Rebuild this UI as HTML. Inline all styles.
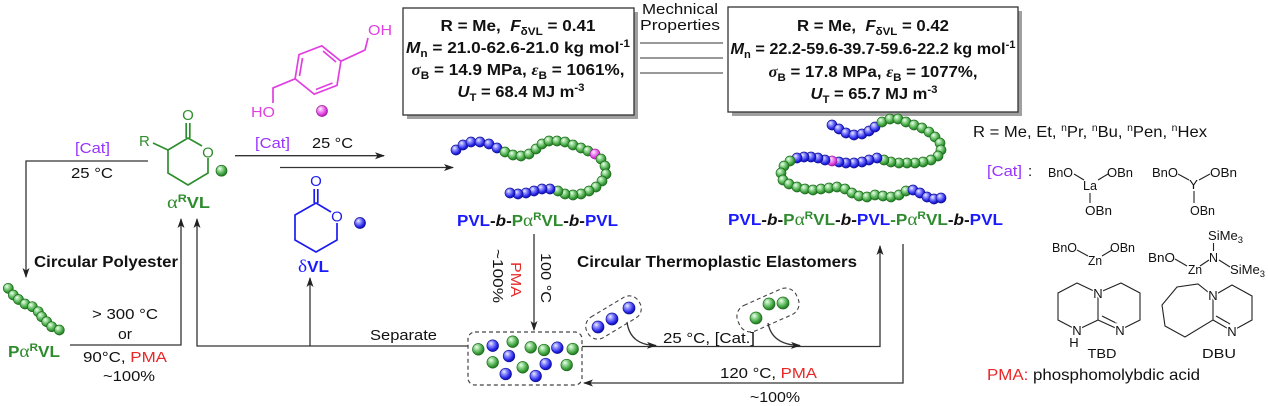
<!DOCTYPE html>
<html><head><meta charset="utf-8">
<style>
html,body{margin:0;padding:0;background:#fff;}
svg{display:block;}
text{font-family:"Liberation Sans",Arial,sans-serif;fill:#111;}
.g{fill:url(#gg);stroke:#1d6b1d;stroke-width:.7}
.b{fill:url(#bb);stroke:#10109a;stroke-width:.7}
.p{fill:url(#pp);stroke:#a020a0;stroke-width:.7}
.ln{stroke:#333;stroke-width:1.3;fill:none}
.gs{stroke:#2f8f2f;stroke-width:1.7;fill:none}
.bs{stroke:#1c1cf0;stroke-width:1.7;fill:none}
.ps{stroke:#e040e0;stroke-width:1.7;fill:none}
.ks{stroke:#222;stroke-width:1.1;fill:none}
.lab{paint-order:stroke;stroke:#fff;stroke-width:3px;}
</style></head><body>
<svg width="1268" height="406" viewBox="0 0 1268 406" xmlns="http://www.w3.org/2000/svg">
<defs>
<radialGradient id="gg" cx="0.4" cy="0.38" r="0.65" fx="0.35" fy="0.3">
<stop offset="0" stop-color="#f2fff2"/><stop offset="0.35" stop-color="#92d892"/><stop offset="0.75" stop-color="#3a9d3a"/><stop offset="1" stop-color="#1f6f1f"/></radialGradient>
<radialGradient id="bb" cx="0.4" cy="0.38" r="0.65" fx="0.35" fy="0.3">
<stop offset="0" stop-color="#f0f0ff"/><stop offset="0.35" stop-color="#8a8aff"/><stop offset="0.75" stop-color="#2828e8"/><stop offset="1" stop-color="#0a0a9a"/></radialGradient>
<radialGradient id="pp" cx="0.4" cy="0.38" r="0.65" fx="0.35" fy="0.3">
<stop offset="0" stop-color="#fff0ff"/><stop offset="0.35" stop-color="#f39af3"/><stop offset="0.75" stop-color="#dc3cdc"/><stop offset="1" stop-color="#a010a0"/></radialGradient>
<marker id="ah" markerWidth="10" markerHeight="8" refX="9" refY="4" orient="auto" markerUnits="userSpaceOnUse">
<path d="M0,0.5 L10,4 L0,7.5 L2.5,4 z" fill="#222"/></marker>
</defs>

<!-- ===== Property boxes ===== -->
<rect x="407" y="12" width="231" height="107" fill="#a0a0a0"/>
<rect x="403" y="8" width="231" height="107" fill="#fff" stroke="#333" stroke-width="1.3"/>
<g font-weight="bold" font-size="16" text-anchor="middle">
<text x="518" y="31" textLength="155" lengthAdjust="spacingAndGlyphs">R = Me,&#160; <tspan font-style="italic">F</tspan><tspan font-size="11" dy="4">δVL</tspan><tspan dy="-4"> = 0.41</tspan></text>
<text x="518" y="53" textLength="224" lengthAdjust="spacingAndGlyphs"><tspan font-style="italic">M</tspan><tspan font-size="11" dy="4">n</tspan><tspan dy="-4"> = 21.0-62.6-21.0 kg mol</tspan><tspan font-size="11" dy="-6">-1</tspan></text>
<text x="518" y="75" textLength="213" lengthAdjust="spacingAndGlyphs"><tspan font-style="italic" font-family="Liberation Serif">σ</tspan><tspan font-size="11" dy="4">B</tspan><tspan dy="-4"> = 14.9 MPa, </tspan><tspan font-style="italic" font-family="Liberation Serif">ε</tspan><tspan font-size="11" dy="4">B</tspan><tspan dy="-4"> = 1061%,</tspan></text>
<text x="521" y="97" textLength="127" lengthAdjust="spacingAndGlyphs"><tspan font-style="italic">U</tspan><tspan font-size="11" dy="4">T</tspan><tspan dy="-4"> = 68.4 MJ m</tspan><tspan font-size="11" dy="-6">-3</tspan></text>
</g>

<rect x="732" y="11" width="290" height="105" fill="#a0a0a0"/>
<rect x="728" y="7" width="290" height="105" fill="#fff" stroke="#333" stroke-width="1.3"/>
<g font-weight="bold" font-size="16" text-anchor="middle">
<text x="873" y="31" textLength="152" lengthAdjust="spacingAndGlyphs">R = Me,&#160; <tspan font-style="italic">F</tspan><tspan font-size="11" dy="4">δVL</tspan><tspan dy="-4"> = 0.42</tspan></text>
<text x="873" y="54" textLength="285" lengthAdjust="spacingAndGlyphs"><tspan font-style="italic">M</tspan><tspan font-size="11" dy="4">n</tspan><tspan dy="-4"> = 22.2-59.6-39.7-59.6-22.2 kg mol</tspan><tspan font-size="11" dy="-6">-1</tspan></text>
<text x="873" y="77" textLength="209" lengthAdjust="spacingAndGlyphs"><tspan font-style="italic" font-family="Liberation Serif">σ</tspan><tspan font-size="11" dy="4">B</tspan><tspan dy="-4"> = 17.8 MPa, </tspan><tspan font-style="italic" font-family="Liberation Serif">ε</tspan><tspan font-size="11" dy="4">B</tspan><tspan dy="-4"> = 1077%,</tspan></text>
<text x="874" y="99" textLength="127" lengthAdjust="spacingAndGlyphs"><tspan font-style="italic">U</tspan><tspan font-size="11" dy="4">T</tspan><tspan dy="-4"> = 65.7 MJ m</tspan><tspan font-size="11" dy="-6">-3</tspan></text>
</g>

<text x="642" y="14" font-size="15" textLength="76" lengthAdjust="spacingAndGlyphs">Mechnical</text>
<text x="640" y="30" font-size="15" textLength="80" lengthAdjust="spacingAndGlyphs">Properties</text>
<line x1="640" y1="43" x2="723" y2="43" stroke="#333" stroke-width="1"/>
<line x1="640" y1="58" x2="723" y2="58" stroke="#333" stroke-width="1"/>
<line x1="640" y1="73" x2="723" y2="73" stroke="#333" stroke-width="1"/>

<!-- ===== Pink diol ===== -->
<polygon class="ps" points="321.8,45.8 340.9,61.2 337,85.4 314.2,94.2 295.1,78.8 299,54.6"/>
<line class="ps" x1="302.5" y1="58" x2="299.5" y2="76"/>
<line class="ps" x1="323" y1="51" x2="336" y2="62"/>
<line class="ps" x1="332.5" y1="83" x2="316" y2="89.5"/>
<polyline class="ps" points="340.9,61.2 365,50 368,38"/>
<polyline class="ps" points="295.1,78.8 273,88 273,103"/>
<text x="368" y="35" font-size="15" fill="#e040e0" style="fill:#e040e0" textLength="24" lengthAdjust="spacingAndGlyphs">OH</text>
<text x="251" y="117" font-size="15" style="fill:#e040e0" textLength="24" lengthAdjust="spacingAndGlyphs">HO</text>
<circle class="p" cx="322" cy="111" r="5.5"/>

<!-- ===== αRVL structure ===== -->
<polyline class="gs" points="202,146 188,138 168,150 168,173 188,185 208,173 208,158"/>
<line class="gs" x1="168" y1="150" x2="153" y2="143"/>
<line class="gs" x1="186.2" y1="138" x2="186.2" y2="123"/>
<line class="gs" x1="189.8" y1="138" x2="189.8" y2="123"/>
<text x="188" y="120" font-size="15" text-anchor="middle" style="fill:#2f8f2f">O</text>
<text x="208" y="157.5" font-size="15" text-anchor="middle" style="fill:#2f8f2f">O</text>
<text x="139" y="146" font-size="15" style="fill:#2f8f2f">R</text>
<circle class="g" cx="221.5" cy="170.7" r="5.5"/>
<text x="167" y="208" font-size="16" font-weight="bold" style="fill:#2e8b2e" textLength="43" lengthAdjust="spacingAndGlyphs"><tspan font-family="Liberation Serif" font-weight="normal" font-size="18" style="fill:#2e8b2e">α</tspan><tspan font-size="11" dy="-6" style="fill:#2e8b2e">R</tspan><tspan dy="6" style="fill:#2e8b2e">VL</tspan></text>

<!-- ===== δVL structure ===== -->
<polyline class="bs" points="331,212 316,203 295,215 295,240 316,252 337,240 337,223"/>
<line class="bs" x1="314.2" y1="203" x2="314.2" y2="189"/>
<line class="bs" x1="317.8" y1="203" x2="317.8" y2="189"/>
<text x="316" y="186" font-size="15" text-anchor="middle" style="fill:#1c1cf0">O</text>
<text x="337" y="221.5" font-size="15" text-anchor="middle" style="fill:#1c1cf0">O</text>
<circle class="b" cx="360" cy="223" r="5.5"/>
<text x="298" y="272" font-size="16" font-weight="bold" style="fill:#1a1aff" textLength="31" lengthAdjust="spacingAndGlyphs"><tspan font-family="Liberation Serif" font-weight="normal" font-size="18" style="fill:#1a1aff">δ</tspan><tspan style="fill:#1a1aff">VL</tspan></text>

<!-- ===== Left arrows ===== -->
<text x="75" y="153" font-size="15" style="fill:#9933ff" textLength="35" lengthAdjust="spacingAndGlyphs">[Cat]</text>
<text x="71" y="178" font-size="15" textLength="42" lengthAdjust="spacingAndGlyphs">25 °C</text>
<polyline class="ln" points="148,161 26,161 26,277" marker-end="url(#ah)"/>
<text x="34" y="267" font-size="15.5" font-weight="bold" textLength="144" lengthAdjust="spacingAndGlyphs">Circular Polyester</text>
<polyline class="ln" points="70,345 181,345 181,219" marker-end="url(#ah)"/>
<polyline class="ln" points="468,346 197,346 197,219" marker-end="url(#ah)"/>
<line class="ln" x1="310" y1="346" x2="310" y2="278" marker-end="url(#ah)"/>
<text x="92" y="319" font-size="15" textLength="66" lengthAdjust="spacingAndGlyphs">&gt; 300 °C</text>
<text x="118" y="339" font-size="15" textLength="14" lengthAdjust="spacingAndGlyphs">or</text>
<text x="83" y="362" font-size="15" textLength="84" lengthAdjust="spacingAndGlyphs">90°C, <tspan style="fill:#e82828">PMA</tspan></text>
<text x="103" y="381" font-size="15" textLength="52" lengthAdjust="spacingAndGlyphs">~100%</text>
<text x="370" y="340" font-size="15" textLength="67" lengthAdjust="spacingAndGlyphs">Separate</text>

<!-- PαRVL chain -->
<g>
<circle class="g" cx="8.3" cy="288.3" r="5"/><circle class="g" cx="13.3" cy="295" r="5"/><circle class="g" cx="18.5" cy="299.5" r="5"/><circle class="g" cx="25" cy="304" r="5"/><circle class="g" cx="32.3" cy="306.7" r="5"/><circle class="g" cx="38.3" cy="311.7" r="5"/><circle class="g" cx="41.7" cy="316.7" r="5"/><circle class="g" cx="46.7" cy="321.7" r="5"/><circle class="g" cx="51.7" cy="326.7" r="5"/><circle class="g" cx="59.3" cy="330" r="5"/>
</g>
<text x="8" y="357" font-size="16" font-weight="bold" style="fill:#2e8b2e" textLength="52" lengthAdjust="spacingAndGlyphs">P<tspan font-family="Liberation Serif" font-weight="normal" font-size="18" style="fill:#2e8b2e">α</tspan><tspan font-size="11" dy="-6" style="fill:#2e8b2e">R</tspan><tspan dy="6" style="fill:#2e8b2e">VL</tspan></text>

<!-- ===== Middle arrows ===== -->
<text x="255" y="148" font-size="15" style="fill:#9933ff" textLength="35" lengthAdjust="spacingAndGlyphs">[Cat]</text>
<text x="312" y="148" font-size="15" textLength="41" lengthAdjust="spacingAndGlyphs">25 °C</text>
<line class="ln" x1="235" y1="155.7" x2="384" y2="155.7" marker-end="url(#ah)"/>
<line class="ln" x1="280" y1="167.5" x2="453" y2="167.5" marker-end="url(#ah)"/>

<!-- Chain 1 -->
<g>
<circle class="b" cx="456" cy="150" r="5"/><circle class="b" cx="463" cy="145" r="5"/><circle class="b" cx="471" cy="142" r="5"/><circle class="b" cx="480" cy="142" r="5"/><circle class="b" cx="489" cy="144" r="5"/><circle class="b" cx="497" cy="148" r="5"/>
<circle class="g" cx="505" cy="152" r="5"/><circle class="g" cx="513" cy="155" r="5"/><circle class="g" cx="521" cy="156" r="5"/><circle class="g" cx="529" cy="154" r="5"/><circle class="g" cx="536" cy="149" r="5"/><circle class="g" cx="542" cy="144" r="5"/><circle class="g" cx="549" cy="141" r="5"/><circle class="g" cx="557" cy="141" r="5"/><circle class="g" cx="565" cy="142" r="5"/><circle class="g" cx="573" cy="145" r="5"/><circle class="g" cx="581" cy="148" r="5"/><circle class="g" cx="588" cy="151" r="5"/>
<circle class="p" cx="595" cy="154" r="5"/>
<circle class="g" cx="601" cy="159" r="5"/><circle class="g" cx="605" cy="166" r="5"/><circle class="g" cx="606" cy="174" r="5"/><circle class="g" cx="602" cy="181" r="5"/><circle class="g" cx="596" cy="187" r="5"/><circle class="g" cx="589" cy="191" r="5"/><circle class="g" cx="581" cy="194" r="5"/><circle class="g" cx="573" cy="195" r="5"/><circle class="g" cx="565" cy="194" r="5"/><circle class="g" cx="558" cy="191" r="5"/>
<circle class="b" cx="550" cy="189" r="5"/><circle class="b" cx="542" cy="189" r="5"/><circle class="b" cx="534" cy="191" r="5"/><circle class="b" cx="526" cy="193" r="5"/><circle class="b" cx="518" cy="194" r="5"/><circle class="b" cx="510" cy="193" r="5"/>
</g>
<text x="457" y="226" font-size="16" font-weight="bold" textLength="161" lengthAdjust="spacingAndGlyphs"><tspan style="fill:#1a1aff">PVL</tspan>-<tspan font-style="italic">b</tspan>-<tspan style="fill:#2e8b2e">P</tspan><tspan font-family="Liberation Serif" font-weight="normal" font-size="18" style="fill:#2e8b2e">α</tspan><tspan font-size="11" dy="-6" style="fill:#2e8b2e">R</tspan><tspan dy="6" style="fill:#2e8b2e">VL</tspan>-<tspan font-style="italic">b</tspan>-<tspan style="fill:#1a1aff">PVL</tspan></text>

<!-- Vertical degradation arrow -->
<line class="ln" x1="534" y1="234" x2="534" y2="330" marker-end="url(#ah)"/>
<text transform="translate(541,253) rotate(90)" font-size="15" textLength="50" lengthAdjust="spacingAndGlyphs">100 °C</text>
<text transform="translate(511,262) rotate(90)" font-size="15" style="fill:#e82828" textLength="35" lengthAdjust="spacingAndGlyphs">PMA</text>
<text transform="translate(493,249) rotate(90)" font-size="15" textLength="54" lengthAdjust="spacingAndGlyphs">~100%</text>

<text x="577" y="267" font-size="16" font-weight="bold" textLength="280" lengthAdjust="spacingAndGlyphs">Circular Thermoplastic Elastomers</text>

<!-- Mixed monomer box -->
<rect x="468" y="332" width="114" height="53" rx="7" fill="none" stroke="#444" stroke-width="1.2" stroke-dasharray="4,3"/>
<g>
<circle class="g" cx="478.3" cy="349.3" r="5.8"/><circle class="b" cx="492.7" cy="345.7" r="5.8"/><circle class="g" cx="512.7" cy="341.7" r="5.8"/><circle class="b" cx="509" cy="356" r="5.8"/><circle class="g" cx="492.7" cy="362.3" r="5.8"/><circle class="b" cx="505.7" cy="374" r="5.8"/><circle class="g" cx="522.7" cy="367.3" r="5.8"/><circle class="g" cx="530.7" cy="347.3" r="5.8"/><circle class="g" cx="544" cy="350" r="5.8"/><circle class="b" cx="557.3" cy="347.7" r="5.8"/><circle class="g" cx="572.7" cy="349" r="5.8"/><circle class="b" cx="545.7" cy="364" r="5.8"/><circle class="b" cx="535.7" cy="376" r="5.8"/><circle class="g" cx="566.7" cy="365" r="5.8"/>
</g>

<!-- Loop arrows -->
<polyline class="ln" points="582,346.5 880,346.5 880,246" marker-end="url(#ah)"/>
<polyline class="ln" points="903,244 903,383 584,383" marker-end="url(#ah)"/>
<text x="663" y="343" font-size="15" textLength="92" lengthAdjust="spacingAndGlyphs">25 °C, [Cat.]</text>
<text x="720" y="378" font-size="15" textLength="97" lengthAdjust="spacingAndGlyphs">120 °C, <tspan style="fill:#e82828">PMA</tspan></text>
<text x="750" y="402" font-size="15" textLength="50" lengthAdjust="spacingAndGlyphs">~100%</text>

<!-- Capsules -->
<rect x="-30" y="-12" width="60" height="24" rx="11" transform="translate(613.5,317.5) rotate(-31)" fill="none" stroke="#444" stroke-width="1.1" stroke-dasharray="4,3"/>
<circle class="b" cx="598" cy="327" r="6"/><circle class="b" cx="612" cy="319" r="6"/><circle class="b" cx="629" cy="308" r="6"/>
<path class="ln" d="M627,322 Q630,345 656,345.5" stroke-width="1.1" marker-end="url(#ah)"/>
<rect x="-32" y="-14" width="64" height="28" rx="12" transform="translate(768,310) rotate(-24)" fill="none" stroke="#444" stroke-width="1.1" stroke-dasharray="4,3"/>
<circle class="g" cx="756" cy="318" r="6"/><circle class="g" cx="769" cy="304" r="6"/><circle class="g" cx="783" cy="303" r="6"/>
<path class="ln" d="M768,323 Q772,345 800,345.5" stroke-width="1.1" marker-end="url(#ah)"/>

<!-- Chain 2 -->
<g>
<circle class="b" cx="832" cy="125" r="5"/><circle class="b" cx="839" cy="129" r="5"/><circle class="b" cx="846" cy="133" r="5"/><circle class="b" cx="854" cy="135" r="5"/><circle class="b" cx="862" cy="134" r="5"/><circle class="b" cx="869" cy="131" r="5"/><circle class="b" cx="875" cy="127" r="5"/>
<circle class="g" cx="882" cy="122" r="5"/><circle class="g" cx="890" cy="119" r="5"/><circle class="g" cx="898" cy="119" r="5"/><circle class="g" cx="906" cy="122" r="5"/><circle class="g" cx="914" cy="125" r="5"/><circle class="g" cx="922" cy="128" r="5"/><circle class="g" cx="929" cy="132" r="5"/><circle class="g" cx="935" cy="137" r="5"/><circle class="g" cx="940" cy="143" r="5"/><circle class="g" cx="941" cy="150" r="5"/><circle class="g" cx="938" cy="156" r="5"/><circle class="g" cx="931" cy="160" r="5"/><circle class="g" cx="923" cy="162" r="5"/><circle class="g" cx="915" cy="163" r="5"/><circle class="g" cx="907" cy="163" r="5"/><circle class="g" cx="899" cy="163" r="5"/><circle class="g" cx="891" cy="162" r="5"/><circle class="g" cx="884" cy="160" r="5"/>
<circle class="b" cx="877" cy="158" r="5"/><circle class="b" cx="869" cy="160" r="5"/><circle class="b" cx="862" cy="162" r="5"/><circle class="b" cx="854" cy="163" r="5"/><circle class="b" cx="846" cy="163" r="5"/><circle class="b" cx="839" cy="162" r="5"/>
<circle class="p" cx="832" cy="161" r="5"/>
<circle class="b" cx="825" cy="160" r="5"/><circle class="b" cx="818" cy="158" r="5"/><circle class="b" cx="811" cy="157" r="5"/><circle class="b" cx="804" cy="157" r="5"/><circle class="b" cx="797" cy="158" r="5"/>
<circle class="g" cx="790" cy="161" r="5"/><circle class="g" cx="784" cy="166" r="5"/><circle class="g" cx="781" cy="173" r="5"/><circle class="g" cx="783" cy="180" r="5"/><circle class="g" cx="789" cy="184" r="5"/><circle class="g" cx="797" cy="187" r="5"/><circle class="g" cx="805" cy="189" r="5"/><circle class="g" cx="813" cy="190" r="5"/><circle class="g" cx="821" cy="189" r="5"/><circle class="g" cx="829" cy="188" r="5"/><circle class="g" cx="837" cy="187" r="5"/><circle class="g" cx="845" cy="189" r="5"/><circle class="g" cx="852" cy="193" r="5"/><circle class="g" cx="859" cy="196" r="5"/><circle class="g" cx="867" cy="197" r="5"/><circle class="g" cx="875" cy="195" r="5"/><circle class="g" cx="883" cy="196" r="5"/><circle class="g" cx="891" cy="197" r="5"/><circle class="g" cx="899" cy="195" r="5"/><circle class="g" cx="906" cy="191" r="5"/>
<circle class="b" cx="913" cy="190" r="5"/><circle class="b" cx="920" cy="193" r="5"/><circle class="b" cx="927" cy="197" r="5"/><circle class="b" cx="934" cy="199" r="5"/><circle class="b" cx="941" cy="198" r="5"/>
</g>
<text x="728" y="225" font-size="16" font-weight="bold" textLength="275" lengthAdjust="spacingAndGlyphs"><tspan style="fill:#1a1aff">PVL</tspan>-<tspan font-style="italic">b</tspan>-<tspan style="fill:#2e8b2e">P</tspan><tspan font-family="Liberation Serif" font-weight="normal" font-size="18" style="fill:#2e8b2e">α</tspan><tspan font-size="11" dy="-6" style="fill:#2e8b2e">R</tspan><tspan dy="6" style="fill:#2e8b2e">VL</tspan>-<tspan font-style="italic">b</tspan>-<tspan style="fill:#1a1aff">PVL</tspan><tspan style="fill:#2e8b2e">-P</tspan><tspan font-family="Liberation Serif" font-weight="normal" font-size="18" style="fill:#2e8b2e">α</tspan><tspan font-size="11" dy="-6" style="fill:#2e8b2e">R</tspan><tspan dy="6" style="fill:#2e8b2e">VL</tspan>-<tspan font-style="italic">b</tspan>-<tspan style="fill:#1a1aff">PVL</tspan></text>

<!-- ===== Right side ===== -->
<text x="973" y="137" font-size="16" textLength="234" lengthAdjust="spacingAndGlyphs">R = Me, Et, <tspan font-size="10" dy="-6">n</tspan><tspan dy="6">Pr, </tspan><tspan font-size="10" dy="-6">n</tspan><tspan dy="6">Bu, </tspan><tspan font-size="10" dy="-6">n</tspan><tspan dy="6">Pen, </tspan><tspan font-size="10" dy="-6">n</tspan><tspan dy="6">Hex</tspan></text>

<text x="987" y="176" font-size="15" style="fill:#9933ff" textLength="35" lengthAdjust="spacingAndGlyphs">[Cat]</text>
<text x="1028" y="176" font-size="15">:</text>

<g font-size="12.5">
<!-- La -->
<text x="1048" y="177" textLength="25" lengthAdjust="spacingAndGlyphs">BnO</text>
<text x="1083" y="190" textLength="14" lengthAdjust="spacingAndGlyphs">La</text>
<text x="1107" y="177" textLength="26" lengthAdjust="spacingAndGlyphs">OBn</text>
<text x="1085" y="215" textLength="27" lengthAdjust="spacingAndGlyphs">OBn</text>
<line class="ks" x1="1074" y1="174" x2="1084" y2="180"/>
<line class="ks" x1="1098" y1="180" x2="1108" y2="174"/>
<line class="ks" x1="1090" y1="193" x2="1090" y2="203"/>
<!-- Y -->
<text x="1152" y="177" textLength="26" lengthAdjust="spacingAndGlyphs">BnO</text>
<text x="1189" y="189" textLength="9" lengthAdjust="spacingAndGlyphs">Y</text>
<text x="1210" y="177" textLength="27" lengthAdjust="spacingAndGlyphs">OBn</text>
<text x="1190" y="215" textLength="25" lengthAdjust="spacingAndGlyphs">OBn</text>
<line class="ks" x1="1178" y1="174" x2="1189" y2="180"/>
<line class="ks" x1="1199" y1="180" x2="1210" y2="174"/>
<line class="ks" x1="1194" y1="191" x2="1194" y2="203"/>
<!-- Zn 1 -->
<text x="1052" y="252" textLength="25" lengthAdjust="spacingAndGlyphs">BnO</text>
<text x="1088" y="265" textLength="14" lengthAdjust="spacingAndGlyphs">Zn</text>
<text x="1110" y="252" textLength="25" lengthAdjust="spacingAndGlyphs">OBn</text>
<line class="ks" x1="1077" y1="250" x2="1088" y2="256"/>
<line class="ks" x1="1102" y1="256" x2="1112" y2="250"/>
<!-- Zn 2 -->
<text x="1208" y="240" textLength="35" lengthAdjust="spacingAndGlyphs">SiMe<tspan font-size="9" dy="3">3</tspan></text>
<line class="ks" x1="1213.5" y1="243" x2="1213.5" y2="251"/>
<text x="1209" y="262" textLength="9" lengthAdjust="spacingAndGlyphs">N</text>
<text x="1148" y="262" textLength="27" lengthAdjust="spacingAndGlyphs">BnO</text>
<text x="1188" y="274" textLength="14" lengthAdjust="spacingAndGlyphs">Zn</text>
<text x="1230" y="274" textLength="35" lengthAdjust="spacingAndGlyphs">SiMe<tspan font-size="9" dy="3">3</tspan></text>
<line class="ks" x1="1175" y1="259" x2="1187" y2="266"/>
<line class="ks" x1="1200" y1="266" x2="1209" y2="260"/>
<line class="ks" x1="1219" y1="260" x2="1230" y2="267"/>
</g>

<!-- TBD -->
<polyline class="ks" points="1098,293 1077,283 1058,293 1058,320 1077,330 1098,320 1098,293 1121,283 1140,293 1140,320 1120,330 1098,320"/>
<line class="ks" x1="1102" y1="316" x2="1117" y2="323.5"/>
<g font-size="13" text-anchor="middle">
<text class="lab" x="1098" y="298">N</text>
<text class="lab" x="1120" y="335">N</text>
<text class="lab" x="1077" y="335">N</text>
<text x="1074" y="347">H</text>
<text x="1102" y="358" textLength="29" lengthAdjust="spacingAndGlyphs">TBD</text>
</g>
<!-- DBU -->
<polyline class="ks" points="1213,296 1198,284 1177,287 1162,305 1165,326 1185,337 1213,320 1213,296 1232,285 1252,296 1252,320 1232,331 1213,320"/>
<line class="ks" x1="1216" y1="316" x2="1230" y2="324"/>
<g font-size="13" text-anchor="middle">
<text class="lab" x="1213" y="300">N</text>
<text class="lab" x="1232" y="336">N</text>
<text x="1219" y="358" textLength="34" lengthAdjust="spacingAndGlyphs">DBU</text>
</g>

<text x="987" y="380" font-size="16" textLength="213" lengthAdjust="spacingAndGlyphs"><tspan style="fill:#e82828">PMA:</tspan> phosphomolybdic acid</text>
</svg>
</body></html>
